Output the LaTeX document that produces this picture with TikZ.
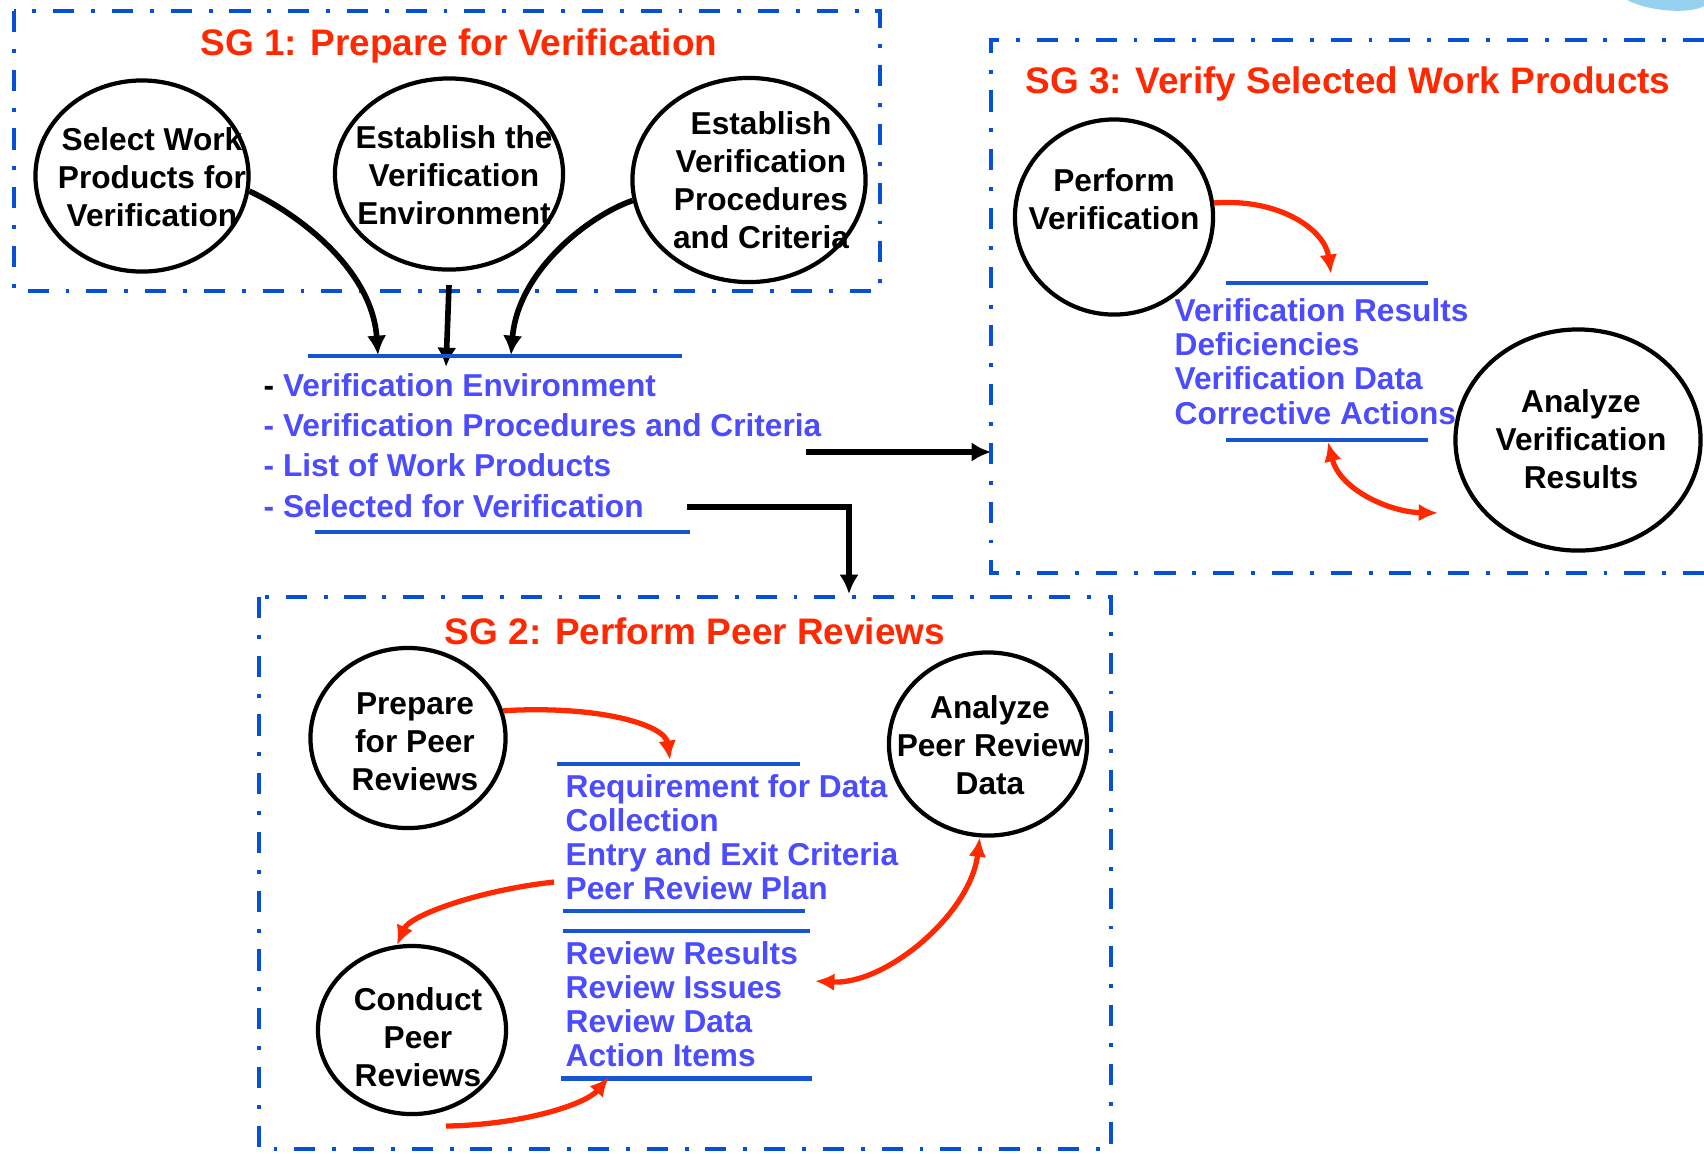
\documentclass[tikz,border=0pt]{standalone}
\usepackage{fontspec}
\setmainfont{Liberation Sans}
\usepackage{xcolor}
\usetikzlibrary{shapes.geometric, arrows.meta, positioning, calc}
\definecolor{sgblue}{RGB}{5,80,215}
\definecolor{barblue}{RGB}{20,85,215}
\definecolor{itemblue}{RGB}{75,75,255}
\definecolor{sgred}{RGB}{255,40,0}
\definecolor{logoblue}{RGB}{150,210,240}
\tikzset{
  sgbox/.style={draw=sgblue, line width=1.2pt, dash pattern=on 6pt off 4.8pt on 1.1pt off 4.8pt},
  sgtitle/.style={text=sgred, inner sep=0pt, font=\fontsize{10.5}{12.6}\selectfont\bfseries},
  proc/.style={draw, ellipse, line width=1.2pt, inner sep=0pt},
  ptext/.style={inner sep=0pt, align=center, font=\fontsize{9}{10.8}\selectfont\bfseries},
  items/.style={anchor=base west, inner sep=0pt, align=left, text=itemblue},
  bar/.style={draw=barblue, line width=1.4pt},
  flow/.style={line width=1.6pt, -{Latex[length=5.5pt,width=5.5pt]}},
  rflow/.style={line width=1.5pt, draw=sgred, -{Latex[length=5.5pt,width=5pt]}},
  rboth/.style={line width=1.5pt, draw=sgred, {Latex[length=5.5pt,width=5pt]}-{Latex[length=5.5pt,width=5pt]}}
}
\begin{document}
\begin{tikzpicture}[x=0.01cm, y=-0.01cm]
  \useasboundingbox (0,0) rectangle (1704,1153);
  % corner of the logo
  \fill[logoblue] (1627,0) .. controls (1650,12) and (1690,14) .. (1704,6) -- (1704,0) -- cycle;

  % SG 1
  \draw[sgbox] (14,11) rectangle (880,291);
  \node[sgtitle] (sg1) at (459,46) {SG 1: Prepare for Verification};
  \node[proc, minimum width=2.13cm, minimum height=1.91cm] (sw) at (142,176) {};
  \node[ptext] (swt) at (152,177) {Select Work\\Products for\\Verification};
  \node[proc, minimum width=2.28cm, minimum height=1.91cm] (ee) at (449,174) {};
  \node[ptext] (eet) at (454,175) {Establish the\\Verification\\Environment};
  \node[proc, minimum width=2.33cm, minimum height=2.04cm] (ep) at (749,180) {};
  \node[ptext] (ept) at (761,180) {Establish\\Verification\\Procedures\\and Criteria};

  \coordinate (t1) at (378,355);
  \coordinate (t2) at (446,367);
  \coordinate (t3) at (511,355);
  \draw[flow] (sw.-8) .. controls (300,215) and (372,270) .. (t1);
  \draw[flow] ([yshift=-3.8pt]ee.south) -- (t2);
  \draw[flow] (ep.190) .. controls (590,215) and (518,270) .. (t3);

  \draw[bar] (308,356) -- (682,356);
  % base = baseline of the last line
  \node[items, font=\fontsize{9}{11.4}\selectfont\bfseries] (vlist) at (263,517)
    {{\color{black}-} Verification Environment\\- Verification Procedures and Criteria\\- List of Work Products\\- Selected for Verification};
  \draw[bar] (315,532) -- (690,532);

  \coordinate (o1) at (806,452);
  \coordinate (s3in) at (991,452);
  \coordinate (o2) at (687,507);
  \coordinate (s2in) at (849,594);
  \draw[flow] (o1) -- (s3in);
  \draw[flow] (o2) -| (s2in);

  % SG 3
  \draw[sgbox] (1704,40) -- (991,40) -- (991,573) -- (1704,573);
  \node[sgtitle] (sg3) at (1348,84) {SG 3: Verify Selected Work Products};
  \node[proc, minimum width=1.98cm, minimum height=1.95cm] (pv) at (1114,217) {};
  \node[ptext] (pvt) at (1114,199) {Perform\\Verification};
  \node[proc, minimum width=2.45cm, minimum height=2.21cm] (av) at (1578,440) {};
  \node[ptext] (avt) at (1581,439) {Analyze\\Verification\\Results};

  \draw[bar] (1226,283) -- (1428,283);
  \node[items, font=\fontsize{9}{9.7}\selectfont\bfseries] (rlist) at (1174,424)
    {Verification Results\\Deficiencies\\Verification Data\\Corrective Actions};
  \draw[bar] (1226,440) -- (1428,440);

  \coordinate (t4) at (1331,274);
  \coordinate (t5) at (1328,442);
  \coordinate (t6) at (1438,513);
  \draw[rflow] (pv.8) .. controls (1280,198) and (1325,230) .. (t4);
  \draw[rboth] (t5) .. controls (1340,490) and (1390,512) .. (t6);

  % SG 2
  \draw[sgbox] (259,597) rectangle (1111,1149);
  \node[sgtitle] (sg2) at (695,631) {SG 2: Perform Peer Reviews};
  \node[proc, minimum width=1.95cm, minimum height=1.80cm] (pp) at (408,738) {};
  \node[ptext] (ppt) at (415,742) {Prepare\\for Peer\\Reviews};
  \node[proc, minimum width=1.88cm, minimum height=1.68cm] (cp) at (412,1030) {};
  \node[ptext] (cpt) at (418,1037) {Conduct\\Peer\\Reviews};
  \node[proc, minimum width=1.98cm, minimum height=1.83cm] (ap) at (988,744) {};
  \node[ptext] (apt) at (990,745) {Analyze\\Peer Review\\Data};

  \draw[bar] (557,764) -- (800,764);
  \node[items, font=\fontsize{9}{9.6}\selectfont\bfseries] (plist) at (565,899)
    {Requirement for Data\\Collection\\Entry and Exit Criteria\\Peer Review Plan};
  \draw[bar] (563,911) -- (805,911);
  \draw[bar] (563,931) -- (810,931);
  \node[items, font=\fontsize{9}{9.6}\selectfont\bfseries] (olist) at (565,1066)
    {Review Results\\Review Issues\\Review Data\\Action Items};
  \draw[bar] (561,1078) -- (812,1078);

  \coordinate (t7) at (670,760);
  \coordinate (f1) at (554,882);
  \coordinate (f2) at (446,1126);
  \coordinate (t8) at (609,1077);
  \coordinate (t9) at (815,981);
  \draw[rflow] (pp.16) .. controls (600,705) and (665,725) .. (t7);
  \draw[rflow] (f1) .. controls (480,890) and (410,915) .. (cp.100);
  \draw[rflow] (f2) .. controls (520,1125) and (585,1105) .. (t8);
  \draw[rboth] (t9) .. controls (885,985) and (970,915) .. (ap.-95);
\end{tikzpicture}
\end{document}
